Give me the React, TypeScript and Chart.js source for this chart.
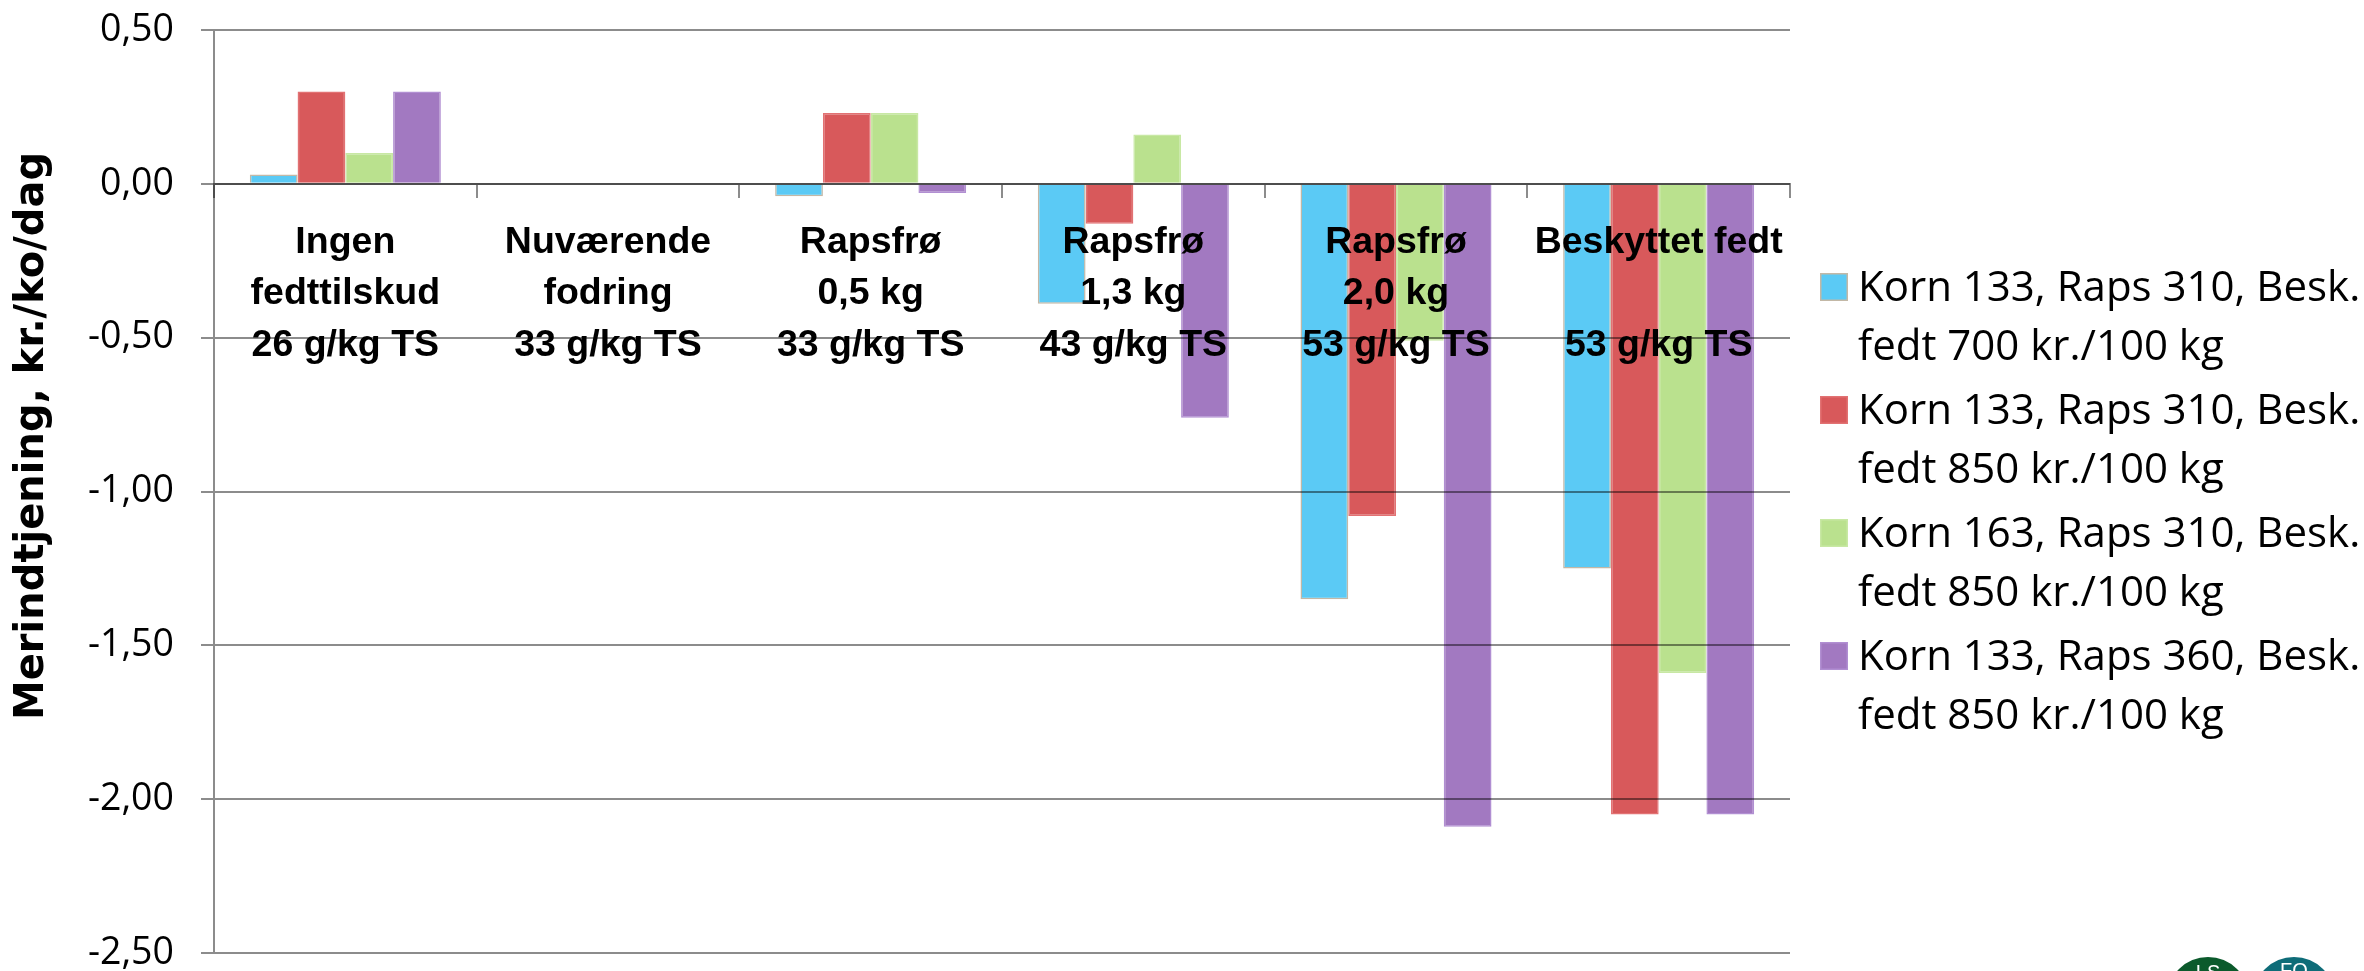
import React, { useEffect, useRef } from 'react';
import { Chart, registerables } from 'chart.js';

Chart.register(...registerables);

// ---- data ----
const categories: string[][] = [
  ['Ingen', 'fedttilskud', '26 g/kg TS'],
  ['Nuværende', 'fodring', '33 g/kg TS'],
  ['Rapsfrø', '0,5 kg', '33 g/kg TS'],
  ['Rapsfrø', '1,3 kg', '43 g/kg TS'],
  ['Rapsfrø', '2,0 kg', '53 g/kg TS'],
  ['Beskyttet fedt', '', '53 g/kg TS'],
];

const legendLines: string[][] = [
  ['Korn 133, Raps 310, Besk.', 'fedt 700 kr./100 kg'],
  ['Korn 133, Raps 310, Besk.', 'fedt 850 kr./100 kg'],
  ['Korn 163, Raps 310, Besk.', 'fedt 850 kr./100 kg'],
  ['Korn 133, Raps 360, Besk.', 'fedt 850 kr./100 kg'],
];

const korn133raps310besk700 = [0.03, 0, -0.04, -0.39, -1.35, -1.25];
const korn133raps310besk850 = [0.30, 0, 0.23, -0.13, -1.08, -2.05];
const korn163raps310besk850 = [0.10, 0, 0.23, 0.16, -0.51, -1.59];
const korn133raps360besk850 = [0.30, 0, -0.03, -0.76, -2.09, -2.05];

const yMin = -2.5;
const yMax = 0.5;
const yStep = 0.5;
const yAxisTitle = 'Merindtjening, kr./ko/dag';

// ---- styles ----
const fills = ['#5BCAF5', '#D8595B', '#BAE18E', '#A279C1'];
const borders = ['#C3B8A6', '#E27273', '#C8E8A4', '#B18FD2'];
const gridColor = 'rgba(0,0,0,0.45)';

const fmt = (v: number) => v.toFixed(2).replace('.', ',');

const overlayPlugin = {
  id: 'overlay',
  afterDraw(chart: any) {
    const ctx = chart.ctx as CanvasRenderingContext2D;
    const area = chart.chartArea;
    ctx.save();
    // y axis title
    ctx.translate(33, 436);
    ctx.rotate(-Math.PI / 2);
    ctx.font = 'bold 40px "DejaVu Sans"';
    ctx.fillStyle = '#000';
    ctx.textAlign = 'center';
    ctx.textBaseline = 'middle';
    ctx.fillText(yAxisTitle, 0, 0);
    ctx.restore();

    // legend
    ctx.save();
    const x0 = area.right + 30;
    const sq = 28;
    ctx.font = '42px "Open Sans"';
    ctx.textAlign = 'left';
    ctx.textBaseline = 'alphabetic';
    chart.data.datasets.forEach((ds: any, i: number) => {
      const base = 301 + i * 123;
      ctx.fillStyle = ds.backgroundColor;
      ctx.fillRect(x0, base - sq, sq, sq);
      ctx.strokeStyle = ds.borderColor;
      ctx.lineWidth = 1.5;
      ctx.strokeRect(x0 + 0.75, base - sq + 0.75, sq - 1.5, sq - 1.5);
      ctx.fillStyle = '#000';
      const lines = legendLines[i];
      lines.forEach((t, j) => ctx.fillText(t, x0 + 38, base + j * 58.5));
    });
    ctx.restore();

    // logo fragments at bottom right
    ctx.save();
    const H = chart.height;
    ctx.fillStyle = '#0B5A2C';
    ctx.beginPath();
    ctx.arc(2208, H + 27, 41, 0, Math.PI * 2);
    ctx.fill();
    ctx.fillStyle = '#0E6C78';
    ctx.beginPath();
    ctx.arc(2294, H + 27, 41, 0, Math.PI * 2);
    ctx.fill();
    ctx.fillStyle = '#fff';
    ctx.font = '20px "Liberation Sans"';
    ctx.textAlign = 'center';
    ctx.textBaseline = 'top';
    ctx.fillText('LS', 2208, H - 8);
    ctx.fillText('FO', 2294, H - 10);
    ctx.restore();
  },
};

export default function App() {
  const canvasRef = useRef<HTMLCanvasElement | null>(null);

  useEffect(() => {
    const canvas = canvasRef.current;
    if (!canvas) return;
    const series = [
      korn133raps310besk700,
      korn133raps310besk850,
      korn163raps310besk850,
      korn133raps360besk850,
    ];
    const chart = new Chart(canvas, {
      type: 'bar',
      data: {
        labels: categories,
        datasets: series.map((d, i) => ({
          label: legendLines[i].join(' '),
          data: d,
          backgroundColor: fills[i],
          borderColor: borders[i],
          borderWidth: 1.5,
          barPercentage: 1,
          categoryPercentage: 4 / 5.5,
        })),
      },
      options: {
        responsive: false,
        animation: false,
        devicePixelRatio: 1,
        layout: { padding: { left: 0, right: 574, top: 30, bottom: 18 } },
        plugins: {
          legend: { display: false },
          tooltip: { enabled: false },
          title: { display: false },
        },
        scales: {
          x: {
            type: 'category',
            position: { y: 0 } as any,
            offset: true,
            grid: {
              offset: true,
              drawOnChartArea: false,
              drawTicks: true,
              tickLength: 13,
              color: gridColor,
              lineWidth: 2,
              z: 1,
            },
            border: { display: true, color: gridColor, width: 2, z: 1 },
            ticks: {
              autoSkip: false,
              maxRotation: 0,
              minRotation: 0,
              padding: 20,
              color: '#000',
              z: 1,
              font: { family: 'Liberation Sans', weight: 'bold', size: 37.5, lineHeight: 1.37 },
            },
          },
          y: {
            type: 'linear',
            min: yMin,
            max: yMax,
            afterFit: (s: any) => {
              s.width = 214;
              s.paddingTop = 0;
              s.paddingBottom = 0;
            },
            ticks: {
              stepSize: yStep,
              padding: 27,
              color: '#000',
              font: { family: 'Open Sans', size: 37.5, lineHeight: 0.9 },
              callback: (v: any) => fmt(Number(v)),
            },
            grid: { color: gridColor, lineWidth: 2, tickLength: 13, z: 1 },
            border: { display: true, color: gridColor, width: 2, z: 1 },
          },
        },
      },
      plugins: [overlayPlugin],
    });
    return () => chart.destroy();
  }, []);

  return (
    <div style={{ position: 'fixed', left: 0, top: 0, width: 2364, height: 971, background: '#fff' }}>
      <canvas ref={canvasRef} width={2364} height={971} style={{ display: 'block', width: 2364, height: 971 }} />
    </div>
  );
}
